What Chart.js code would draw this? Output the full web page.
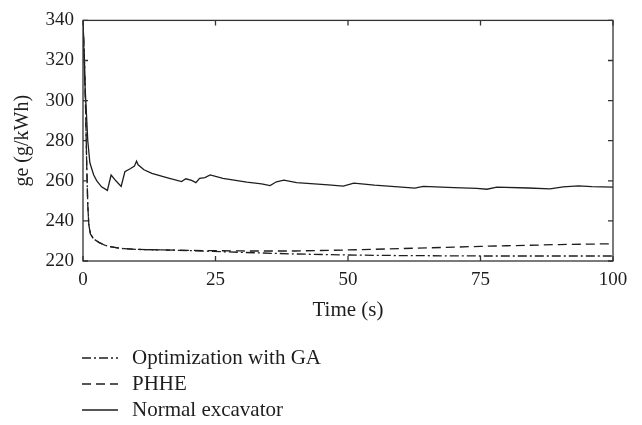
<!DOCTYPE html>
<html>
<head>
<meta charset="utf-8">
<script src="https://cdn.jsdelivr.net/npm/chart.js@4"></script>
<style>
  html, body { margin: 0; padding: 0; background: #fff; }
  #wrap { width: 642px; height: 425px; }
</style>
</head>
<body>
<div id="wrap"><canvas id="chart" width="642" height="425"></canvas></div>
<script>
// Time axis (s) and ge (g/kWh) values
var gaTime = [0, 0.3, 0.5, 0.7, 0.9, 1.1, 1.4, 2, 3, 4, 5, 7, 10, 15, 20, 30, 40, 50, 60, 75, 100];
var gaValues = [340, 318, 295, 268, 248, 238, 233.5, 231, 229.3, 228, 227.2, 226.3, 225.8, 225.5, 225.2, 224.3, 223.5, 223, 222.7, 222.5, 222.5];

var phheTime = [0, 0.3, 0.5, 0.7, 0.9, 1.1, 1.4, 2, 3, 4, 5, 7, 10, 15, 20, 30, 40, 50, 60, 70, 75, 80, 90, 100];
var phheValues = [340, 318, 295, 268, 248, 238, 233.5, 231, 229.3, 228, 227.2, 226.3, 225.8, 225.5, 225.3, 225, 225, 225.5, 226.2, 226.9, 227.3, 227.6, 228.2, 228.6];

var normalTime = [0, 0.3, 0.6, 0.9, 1.3, 2, 2.6, 3.5, 4.6, 5.3, 6.2, 7.2, 7.9, 8.9, 9.7, 10.1, 10.4, 11.5, 13, 15.8, 18.6, 19.4, 20.5, 21.3, 22, 23, 24, 26.4, 30.9, 33.7, 35.3, 36.5, 37.9, 40.3, 46.3, 49.1, 51.1, 55, 59.5, 62.6, 64.2, 70, 74.3, 76.2, 78.1, 84, 88.1, 90.6, 93.5, 96, 100];
var normalValues = [340, 312, 296, 280, 269, 263, 260, 257, 255.2, 262.9, 260, 257.2, 264.5, 266, 267.3, 269.8, 268, 265.5, 263.7, 261.6, 259.6, 261, 260.2, 259.1, 261.2, 261.6, 262.9, 261.2, 259.3, 258.5, 257.6, 259.5, 260.3, 259.1, 258, 257.3, 258.8, 257.8, 257, 256.3, 257.2, 256.6, 256.2, 255.8, 256.8, 256.4, 256, 257, 257.5, 257.1, 256.8];

var seriesLabels = ['Optimization with GA', 'PHHE', 'Normal excavator'];
var xTicks = [0, 25, 50, 75, 100];
var yTicks = [220, 240, 260, 280, 300, 320, 340];

var FONT = '"Liberation Serif", "Times New Roman", serif';
var INK = '#1e1e1e';

function toPoints(times, values) {
    let pts = [];
    for (let i = 0; i < times.length; i++) {
        pts.push({ x: times[i], y: values[i] });
    }
    return pts;
}

// frame + inward ticks on all four sides
var framePlugin = {
    id: 'frame',
    afterDatasetsDraw(chart) {
        const ctx = chart.ctx;
        const a = chart.chartArea;
        const xs = chart.scales.x, ys = chart.scales.y;
        const len = 5;
        ctx.save();
        ctx.strokeStyle = '#333';
        ctx.lineWidth = 1.3;
        ctx.setLineDash([]);
        ctx.strokeRect(a.left, a.top, a.right - a.left, a.bottom - a.top);
        ctx.beginPath();
        xTicks.forEach(function (v) {
            const px = xs.getPixelForValue(v);
            ctx.moveTo(px, a.bottom); ctx.lineTo(px, a.bottom - len);
            ctx.moveTo(px, a.top); ctx.lineTo(px, a.top + len);
        });
        yTicks.forEach(function (v) {
            const py = ys.getPixelForValue(v);
            ctx.moveTo(a.left, py); ctx.lineTo(a.left + len, py);
            ctx.moveTo(a.right, py); ctx.lineTo(a.right - len, py);
        });
        ctx.stroke();
        ctx.restore();
    }
};

// legend stacked under the chart, one row per series
var stackedLegend = {
    id: 'stackedLegend',
    afterDraw(chart) {
        const ctx = chart.ctx;
        const rowY = [358, 384, 410];
        ctx.save();
        ctx.font = '21px ' + FONT;
        ctx.textBaseline = 'middle';
        ctx.fillStyle = INK;
        chart.data.datasets.forEach(function (ds, i) {
            const y = rowY[i];
            ctx.strokeStyle = INK;
            ctx.lineWidth = 1.3;
            ctx.setLineDash(ds.borderDash || []);
            ctx.beginPath();
            ctx.moveTo(82, y);
            ctx.lineTo(118, y);
            ctx.stroke();
            ctx.setLineDash([]);
            ctx.fillText(ds.label, 132, y);
        });
        ctx.restore();
    }
};

const config = {
    type: 'line',
    data: {
        datasets: [{
            label: seriesLabels[0],
            data: toPoints(gaTime, gaValues),
            borderDash: [9, 3, 2, 3]
        }, {
            label: seriesLabels[1],
            data: toPoints(phheTime, phheValues),
            borderDash: [9, 5]
        }, {
            label: seriesLabels[2],
            data: toPoints(normalTime, normalValues),
            borderDash: []
        }]
    },
    options: {
        responsive: false,
        animation: false,
        elements: {
            point: { radius: 0 },
            line: { borderColor: INK, borderWidth: 1.3, tension: 0, fill: false }
        },
        layout: {
            padding: { top: 16, right: 29, left: 0, bottom: 94 }
        },
        plugins: {
            legend: { display: false },
            tooltip: { enabled: false }
        },
        scales: {
            x: {
                type: 'linear',
                min: 0,
                max: 100,
                afterFit: function (scale) { scale.height = 70; },
                afterBuildTicks: function (scale) { scale.ticks = xTicks.map(v => ({ value: v })); },
                grid: { display: false, drawTicks: false },
                border: { display: false },
                ticks: { color: INK, padding: 8, font: { family: FONT, size: 19 }, maxRotation: 0 },
                title: { display: true, text: 'Time (s)', color: INK, padding: 8, font: { family: FONT, size: 21 } }
            },
            y: {
                type: 'linear',
                min: 220,
                max: 340,
                afterFit: function (scale) { scale.width = 83; },
                afterBuildTicks: function (scale) { scale.ticks = yTicks.map(v => ({ value: v })); },
                grid: { display: false, drawTicks: false },
                border: { display: false },
                ticks: { color: INK, padding: 9, font: { family: FONT, size: 19 } },
                title: { display: true, text: 'ge (g/kWh)', color: INK, padding: 11, font: { family: FONT, size: 20 } }
            }
        }
    },
    plugins: [framePlugin, stackedLegend]
};

var ctx = document.getElementById('chart').getContext('2d');
var geChart = new Chart(ctx, config);
</script>
</body>
</html>
